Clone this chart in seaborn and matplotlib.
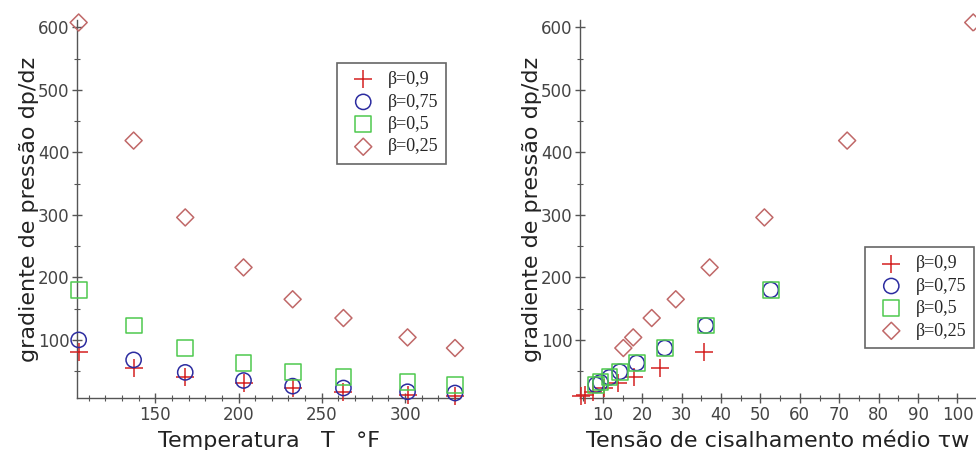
import matplotlib
matplotlib.use("Agg")
import matplotlib.pyplot as plt
import seaborn as sns
from matplotlib.ticker import MultipleLocator

# ===============================
# Data
# ===============================
labels = ["β=0,9", "β=0,75", "β=0,5", "β=0,25"]

temperatura = [104, 137, 168, 203, 232.5, 263, 301.5, 330]

dp_b09 = [80, 55, 40, 31, 23, 17, 12, 10]
dp_b075 = [100, 68, 48, 35, 26, 23, 17, 15]
dp_b05 = [180, 123, 87, 63, 49, 40, 32, 28]
dp_b025 = [608, 419, 296, 216, 165, 135, 104, 87]

# shear stress (right panel)
tau_b09 = [35.7, 24.5, 17.8, 13.8, 10.3, 7.6, 5.4, 4.5]
tau_b05 = [52.6, 36.1, 25.7, 18.6, 14.3, 11.7, 9.4, 8.2]
tau_b025 = [104, 72, 51, 37.1, 28.5, 22.4, 17.7, 15.2]
# in the original the circles sit exactly on the squares
tau_b075 = tau_b05
dp_b075_right = dp_b05

colors = ["#d42020", "#2c2ca0", "#4ec94e", "#c06868"]
markers = ["+", "o", "s", "D"]
sizes = [170, 120, 130, 75]

sns.set_style("white")
plt.rcParams["font.family"] = ["DejaVu Sans"]

fig = plt.figure(figsize=(9.76, 4.5), dpi=100)
ax1 = fig.add_axes([77 / 976, 52 / 450, 383 / 976, 378 / 450])
ax2 = fig.add_axes([580 / 976, 52 / 450, 396 / 976, 378 / 450])


def draw_series(ax, xs, ys):
    for x, y, c, m, s, lab in zip(xs, ys, colors, markers, sizes, labels):
        if m == "+":
            sns.scatterplot(x=x, y=y, marker=m, s=s, color=c, linewidth=1.1,
                            label=lab, ax=ax, clip_on=False, zorder=3)
        else:
            sns.scatterplot(x=x, y=y, marker=m, s=s, facecolors="none",
                            edgecolor=c, linewidth=1.1, label=lab, ax=ax,
                            clip_on=False, zorder=3)


draw_series(ax1, [temperatura] * 4, [dp_b09, dp_b075, dp_b05, dp_b025])
draw_series(ax2, [tau_b09, tau_b075, tau_b05, tau_b025],
            [dp_b09, dp_b075_right, dp_b05, dp_b025])

ax1.set_xlim(103, 333)
ax2.set_xlim(4.2, 104.7)

for ax in (ax1, ax2):
    ax.set_ylim(7, 612)
    ax.yaxis.set_major_locator(MultipleLocator(100))
    ax.yaxis.set_minor_locator(MultipleLocator(50))
    for side in ("top", "right"):
        ax.spines[side].set_visible(False)
    for side in ("left", "bottom"):
        ax.spines[side].set_color("#555555")
        ax.spines[side].set_linewidth(1.0)
    ax.tick_params(which="both", bottom=True, left=True)
    ax.tick_params(which="major", direction="inout", length=7, width=1,
                   color="#555555", labelsize=12, labelcolor="#444444", pad=2)
    ax.tick_params(which="minor", direction="inout", length=4, width=0.8,
                   color="#555555")
    ax.set_ylabel("gradiente de pressão dp/dz", fontsize=16, color="#222222",
                  labelpad=-1)

ax1.xaxis.set_major_locator(MultipleLocator(50))
ax1.xaxis.set_minor_locator(MultipleLocator(10))
ax2.xaxis.set_major_locator(MultipleLocator(10))
ax2.xaxis.set_minor_locator(MultipleLocator(5))

ax1.set_xlabel("Temperatura   T   °F", fontsize=16, color="#222222", labelpad=5)
ax2.set_xlabel("Tensão de cisalhamento médio τw", fontsize=16, color="#222222",
               labelpad=5)

for ax, anchor in ((ax1, (0.679, 0.886)), (ax2, (0.72, 0.399))):
    leg = ax.legend(bbox_to_anchor=anchor, loc="upper left", frameon=True,
                    fancybox=False, prop={"family": "Liberation Serif", "size": 13},
                    handletextpad=0.35, labelspacing=0.3, borderpad=0.45,
                    handlelength=2.0, borderaxespad=0)
    leg.get_frame().set_edgecolor("#666666")
    leg.get_frame().set_linewidth(1.2)
    leg.get_frame().set_alpha(1)

fig.savefig("out.png", dpi=100)
